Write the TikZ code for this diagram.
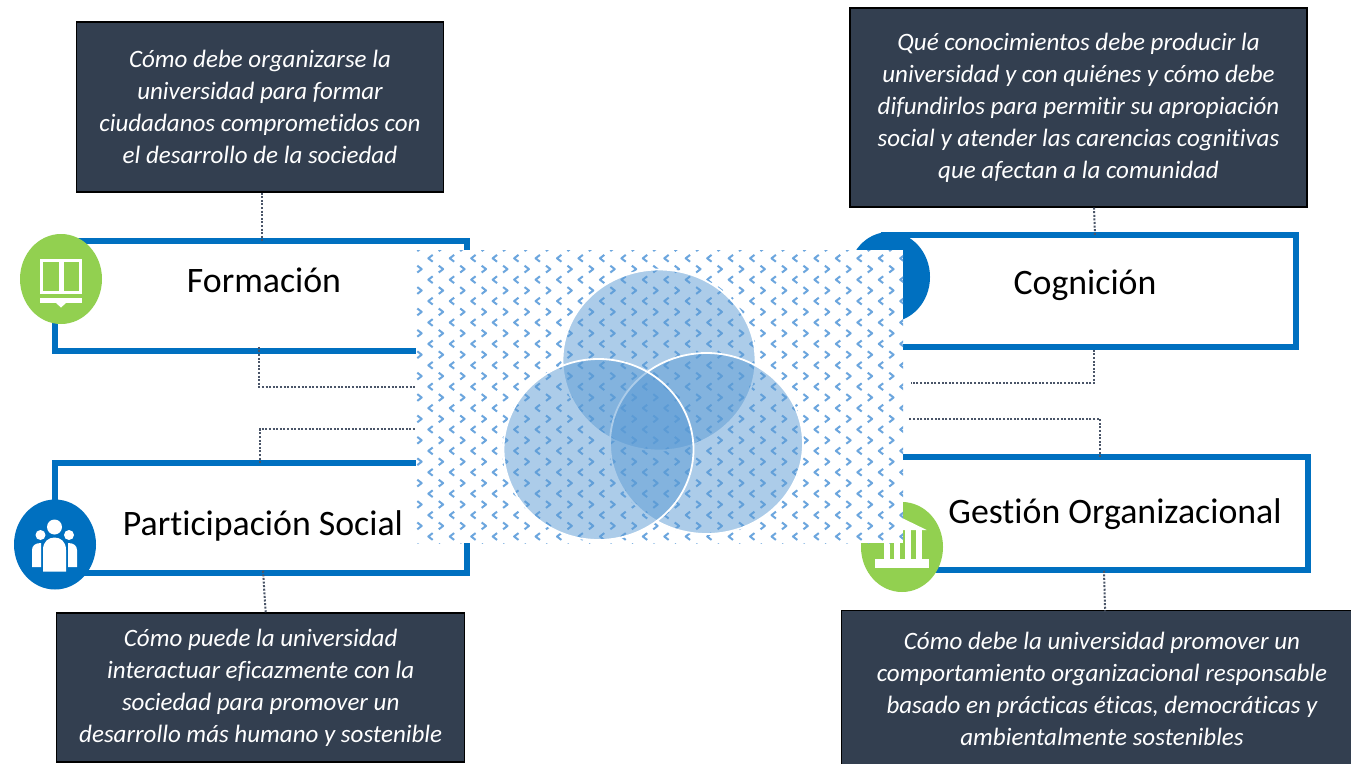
\documentclass[tikz,border=0pt]{standalone}
\usepackage{fontspec}
\setmainfont[Ligatures=NoCommon]{Carlito}
\definecolor{navy}{HTML}{333F50}
\definecolor{bluebox}{HTML}{0070C0}
\definecolor{leaf}{HTML}{92D050}
\definecolor{venn}{HTML}{5B9BD5}
\definecolor{patt}{HTML}{6CA6DE}
\definecolor{dotc}{HTML}{4A5568}
\usetikzlibrary{shapes.geometric}
\tikzset{
  qtext/.style={text=white,align=center,inner sep=0pt,
     font=\fontsize{25}{32}\selectfont\itshape},
  question/.style={qtext,draw=black,line width=1.2pt,fill=navy},
  titlebox/.style={draw=bluebox,line width=5.5pt,fill=white,inner sep=0pt,minimum width=412pt,minimum height=110pt},
  titletext/.style={inner sep=0pt,text=black,font=\fontsize{35.8}{40}\selectfont},
  badge/.style={ellipse,draw=none,inner sep=0pt,minimum width=82pt,minimum height=90pt},
  dotline/.style={draw=dotc,line width=2pt,dash pattern=on 2pt off 1.6pt},
  vennc/.style={ellipse,inner sep=0pt,draw=white,line width=1.8pt,fill=venn,fill opacity=.5,draw opacity=1},
  patternbg/.style={fill=white,draw=none,inner sep=0pt,minimum width=487pt,minimum height=293pt}
}
\begin{document}
\begin{tikzpicture}[x=1pt,y=-1pt]
\useasboundingbox (0,0) rectangle (1351,763);
\fill[white] (0,0) rectangle (1351,763);
% title boxes
\node[titlebox] (fbox) at (261,296) {};
\node[titlebox] (pbox) at (261,518) {};
\node[titlebox,minimum height=112pt] (cbox) at (1090,291) {};
\node[titlebox,minimum height=113pt] (gbox) at (1102,513.5) {};
% badges
\node[badge,fill=leaf] (fbadge) at (61,279) {};
\node[badge,fill=bluebox] (pbadge) at (55,544.5) {};
\node[badge,fill=bluebox] (cbadge) at (889,277) {};
\node[badge,fill=leaf] (gbadge) at (902,547) {};
% book icon
\begin{scope}[white]
\draw[line width=3pt] (41.5,260.5) rectangle (60,292);
\draw[line width=3pt] (62,260.5) rectangle (80.5,292);
\fill (40,298) rectangle (82,303);
\fill (56,303) -- (66,303) -- (61,307.5) -- cycle;
\end{scope}
% people icon
\begin{scope}[white]
\fill (54.5,527) circle (7.5pt);
\fill (40.5,535) circle (5pt);
\fill (69,535) circle (5pt);
\fill (32,567) -- (32,550) .. controls (32,546) and (35,543) .. (41,543) -- (41,567) -- cycle;
\fill (77,567) -- (77,550) .. controls (77,546) and (74,543) .. (68,543) -- (68,567) -- cycle;
\fill (43,571.5) -- (43,550) .. controls (43,541) and (49,537.5) .. (54.5,537.5) .. controls (60,537.5) and (66,541) .. (66,550) -- (66,571.5) -- cycle;
\end{scope}
% building icon
\begin{scope}[white]
\fill (875,559) rectangle (929,567.5);
\fill (884,530) rectangle (889.7,559);
\fill (894.3,530) rectangle (900,559);
\fill (904.5,530) rectangle (911,559);
\fill (915.7,530) rectangle (921.7,559);
\fill (878,530) -- (902,518) -- (926.7,530) -- cycle;
\end{scope}
% question boxes
\node[question,minimum width=367pt,minimum height=170pt] (qf) at (260,107) {Cómo debe organizarse la\\universidad para formar\\ciudadanos comprometidos con\\el desarrollo de la sociedad};
\node[question,minimum width=457pt,minimum height=199pt] (qc) at (1078.5,107.5) {Qué conocimientos debe producir la\\universidad y con quiénes y cómo debe\\difundirlos para permitir su apropiación\\social y atender las carencias cognitivas\\que afectan a la comunidad};
\node[question,minimum width=408pt,minimum height=149pt] (qp) at (260.7,687.5) {Cómo puede la universidad\\interactuar eficazmente con la\\sociedad para promover un\\desarrollo más humano y sostenible};
\node[question,minimum width=514pt,minimum height=158pt,anchor=north west] (qg) at (840.5,609.5) {};
\node[qtext] (qgt) at (1102,688.5) {Cómo debe la universidad promover un\\comportamiento organizacional responsable\\basado en prácticas éticas, democráticas y\\ambientalmente sostenibles};
% free connector ends
\coordinate (fend) at (430,387);
\coordinate (pend) at (430,429);
\coordinate (cend) at (911,383);
\coordinate (gend) at (908,419);
% connectors
\draw[dotline] ([xshift=2pt]qf.south) -- ([xshift=1pt,yshift=-4pt]fbox.north);
\draw[dotline] ([xshift=-2pt,yshift=7pt]fbox.south) |- (fend);
\draw[dotline] ([xshift=-1pt,yshift=-3pt]pbox.north) |- (pend);
\draw[dotline] ([xshift=2pt,yshift=5pt]pbox.south) -- ([xshift=5pt]qp.north);
\draw[dotline] ([xshift=15.5pt]qc.south) -- ([xshift=5pt,yshift=-3pt]cbox.north);
\draw[dotline] ([xshift=4pt]cbox.south) |- (cend);
\draw[dotline] ([xshift=-2pt,yshift=-3pt]gbox.north) |- (gend);
\draw[dotline] ([xshift=2pt,yshift=2pt]gbox.south) -- ([xshift=7pt,yshift=-2pt]qg.north);
% pattern panel
\node[patternbg] (panel) at (659.5,396.5) {};
\begin{scope}
\clip (416,250) rectangle (903,543);
\foreach \i in {-1,...,23}{
  \foreach \j in {-1,...,14}{
    \pgfmathsetmacro{\lx}{430.7+21.45*\i}
    \pgfmathsetmacro{\ly}{258.3+21.4*\j}
    \pgfmathsetmacro{\rx}{419.3+21.45*\i}
    \pgfmathsetmacro{\ry}{269.1+21.4*\j}
    \draw[patt,line width=2pt,line join=round] (\lx+2,\ly-3.4) -- (\lx-2.4,\ly) -- (\lx+2,\ly+3.4);
    \draw[patt,line width=2pt,line join=round] (\rx-2,\ry-3.4) -- (\rx+2.4,\ry) -- (\rx-2,\ry+3.4);
  }
}
\end{scope}
% venn
\node[vennc,minimum width=193pt,minimum height=181pt] (vtop) at (659,360) {};
\node[vennc,minimum width=193pt,minimum height=181pt] (vright) at (706.5,443.5) {};
\node[vennc,minimum width=190pt,minimum height=181pt] (vleft) at (598.5,449.5) {};
% titles
\node[titletext] (tf) at (264,280) {Formación};
\node[titletext] (tp) at (263,526) {Participación Social};
\node[titletext] (tc) at (1085,285.5) {Cognición};
\node[titletext] (tg) at (1115,514) {Gestión Organizacional};
\end{tikzpicture}
\end{document}
